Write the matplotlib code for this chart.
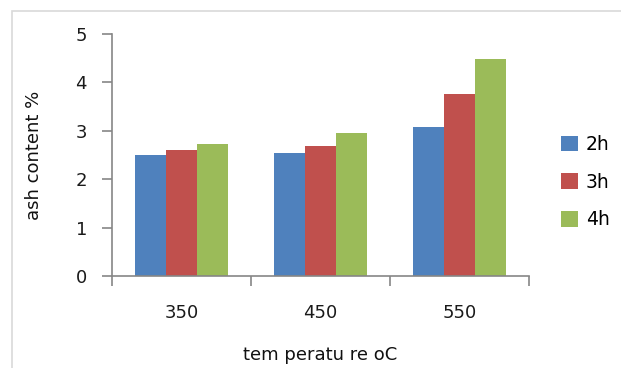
import numpy as np
import matplotlib
matplotlib.use('Agg')
import matplotlib.pyplot as plt
from matplotlib.patches import Rectangle

temps = ['350', '450', '550']
series = ['2h', '3h', '4h']
ash_2h = [2.50, 2.54, 3.08]
ash_3h = [2.60, 2.69, 3.77]
ash_4h = [2.73, 2.96, 4.48]
colors = ['#4F81BD', '#C0504D', '#9BBB59']

plt.rcParams['font.family'] = ['DejaVu Sans']
fig = plt.figure(figsize=(6.21, 3.68), dpi=100)
fig.patches.append(Rectangle((12/621, -0.1), 1.2, 1.1 - 11/368, transform=fig.transFigure,
                             fill=False, edgecolor='#D9D9D9', lw=1.2))
ax = fig.add_axes([112/621, 1 - 276/368, 417/621, 242/368])

x = np.arange(len(temps))
w = 1/4.5
for i, (vals, lab) in enumerate(zip([ash_2h, ash_3h, ash_4h], series)):
    ax.bar(x + (i - 1)*w, vals, w, color=colors[i], label=lab)

ax.set_xlim(-0.5, 2.5)
ax.set_ylim(0, 5)
ax.set_yticks(range(6))
ax.set_xticks(x)
ax.set_xticklabels(temps)
ax.set_xticks([-0.5, 0.5, 1.5, 2.5], minor=True)
ax.tick_params(axis='x', which='major', length=0, pad=20, labelsize=13, labelcolor='#1a1a1a')
ax.tick_params(axis='x', which='minor', length=7, color='#868686', width=1.2)
ax.tick_params(axis='y', length=7, color='#868686', width=1.2, pad=11, labelsize=13, labelcolor='#1a1a1a')
for s in ['top', 'right']:
    ax.spines[s].set_visible(False)
for s in ['left', 'bottom']:
    ax.spines[s].set_color('#868686')
    ax.spines[s].set_linewidth(1.2)

ax.set_xlabel('tem peratu re oC', fontsize=13, color='#111111')
ax.xaxis.set_label_coords(0.5, -0.29)
ax.set_ylabel('ash content %', fontsize=13, color='#111111')
ax.yaxis.set_label_coords(-0.165, 0.5)

fig.legend(loc='center left', bbox_to_anchor=(552/621, 1 - 182/368), frameon=False,
           borderpad=0, handlelength=0.9, handleheight=0.9, handletextpad=0.4,
           labelspacing=1.0, fontsize=13.5)

fig.savefig('out.png', dpi=100)
